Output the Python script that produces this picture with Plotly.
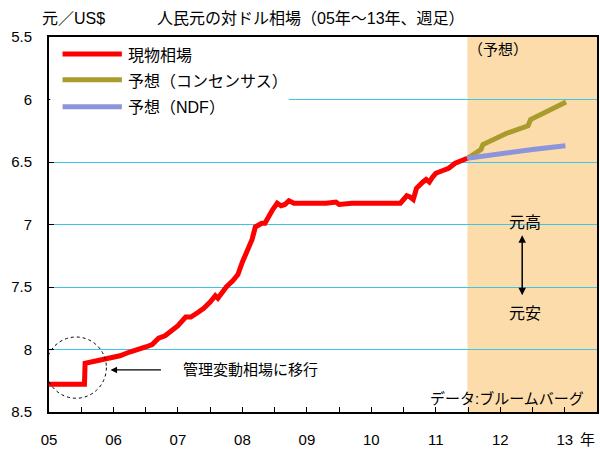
import plotly.graph_objects as go

# ---- data (decimal years, CNY per USD) ----
spot_x = [2005.0, 2005.55, 2005.56, 2005.75, 2005.95, 2006.1, 2006.25, 2006.4, 2006.5, 2006.6,
          2006.7, 2006.8, 2006.9, 2007.0, 2007.12, 2007.2, 2007.32, 2007.4, 2007.5, 2007.58,
          2007.62, 2007.68, 2007.75, 2007.85, 2007.93, 2008.0, 2008.09, 2008.15, 2008.2, 2008.3,
          2008.35, 2008.4, 2008.47, 2008.54, 2008.6, 2008.66, 2008.72, 2008.8, 2008.9, 2008.95,
          2009.1, 2009.3, 2009.45, 2009.5, 2009.7, 2009.9, 2010.1, 2010.3, 2010.45, 2010.5,
          2010.55, 2010.6, 2010.65, 2010.7, 2010.75, 2010.8, 2010.85, 2010.9, 2010.95, 2011.0,
          2011.1, 2011.2, 2011.3, 2011.42, 2011.49]
spot_y = [8.277, 8.277, 8.11, 8.09, 8.07, 8.05, 8.02, 8.00, 7.98, 7.96,
          7.91, 7.89, 7.85, 7.81, 7.74, 7.74, 7.70, 7.67, 7.62, 7.57,
          7.59, 7.54, 7.50, 7.45, 7.40, 7.30, 7.18, 7.12, 7.02, 6.99,
          6.99, 6.94, 6.88, 6.83, 6.85, 6.84, 6.81, 6.83, 6.83, 6.84,
          6.83, 6.83, 6.82, 6.84, 6.83, 6.83, 6.83, 6.83, 6.83, 6.80,
          6.77, 6.78, 6.80, 6.71, 6.68, 6.66, 6.64, 6.66, 6.62, 6.59,
          6.57, 6.55, 6.51, 6.49, 6.47]

cons_x = [2011.49, 2011.70, 2011.73, 2012.05, 2012.1, 2012.43, 2012.47, 2013.02]
cons_y = [6.47, 6.40, 6.36, 6.29, 6.27, 6.21, 6.16, 6.02]

ndf_x = [2011.49, 2012.0, 2012.5, 2013.01]
ndf_y = [6.47, 6.43, 6.40, 6.37]

series_names = ["現物相場", "予想（コンセンサス）", "予想（NDF）"]
series_colors = ["#FF0000", "#A99C2C", "#8C95DC"]

x_tickvals = [2005 + 0.5 * i for i in range(18)]
x_ticktext = ["05", "", "06", "", "07", "", "08", "", "09", "", "10", "", "11", "", "12", "", "13", ""]
y_tickvals = [5.5, 6, 6.5, 7, 7.5, 8, 8.5]
y_ticktext = ["5.5", "6", "6.5", "7", "7.5", "8", "8.5"]

forecast_start = 2011.49
x_end = 2013.5

FONT = "Liberation Sans, Arial, Noto Sans CJK JP"

fig = go.Figure()
for xs, ys, nm, col, w in [(spot_x, spot_y, series_names[0], series_colors[0], 5),
                           (cons_x, cons_y, series_names[1], series_colors[1], 5),
                           (ndf_x, ndf_y, series_names[2], series_colors[2], 5)]:
    fig.add_trace(go.Scatter(x=xs, y=ys, mode="lines", name=nm,
                             line=dict(color=col, width=w), showlegend=False))

shapes = [
    dict(type="rect", xref="x", yref="paper", x0=forecast_start, x1=x_end, y0=0, y1=1,
         fillcolor="#FDDCAC", line=dict(width=0), layer="below"),
    # legend background
    dict(type="rect", xref="x", yref="y", x0=2005.02, x1=2008.72, y0=5.52, y1=6.13,
         fillcolor="white", line=dict(width=0), layer="above"),
    dict(type="circle", xref="x", yref="y", x0=2004.95, x1=2005.89, y0=7.90, y1=8.39,
         line=dict(color="black", width=1, dash="dot")),
]
leg_y = [5.635, 5.842, 6.057]
anns = []
for nm, col, yy in zip(series_names, series_colors, leg_y):
    shapes.append(dict(type="line", xref="x", yref="y", x0=2005.21, x1=2006.13, y0=yy, y1=yy,
                       line=dict(color=col, width=5), layer="above"))
    anns.append(dict(x=2006.19, y=yy + 0.01, xref="x", yref="y", text=nm, showarrow=False,
                     xanchor="left", font=dict(size=16)))

anns += [
    dict(x=2005.955, y=8.163, ax=2006.76, ay=8.163, xref="x", yref="y", axref="x", ayref="y",
         text="", showarrow=True, arrowhead=2, arrowsize=1, arrowwidth=1.3, arrowcolor="black"),
    dict(x=2007.05, y=8.163, xref="x", yref="y", text="管理変動相場に移行", showarrow=False,
         xanchor="left", font=dict(size=15)),
    dict(x=2013.33, y=8.39, xref="x", yref="y", text="データ:ブルームバーグ", showarrow=False,
         xanchor="right", font=dict(size=15)),
    dict(x=2011.47, y=5.60, xref="x", yref="y", text="（予想）", showarrow=False,
         xanchor="left", font=dict(size=15)),
    dict(x=2012.39, y=6.98, xref="x", yref="y", text="元高", showarrow=False, font=dict(size=16)),
    dict(x=2012.39, y=7.71, xref="x", yref="y", text="元安", showarrow=False, font=dict(size=16)),
    dict(x=2012.34, y=7.566, ax=2012.34, ay=7.073, xref="x", yref="y", axref="x", ayref="y",
         text="", showarrow=True, arrowhead=2, startarrowhead=2, arrowside="end+start",
         arrowsize=1, arrowwidth=1.5, arrowcolor="black"),
    dict(x=0, y=1, xref="paper", yref="paper", text="元／US$", showarrow=False,
         xanchor="left", yanchor="middle", xshift=-9, yshift=19, font=dict(size=16)),
    dict(x=0, y=1, xref="paper", yref="paper", text="人民元の対ドル相場（05年～13年、週足）",
         showarrow=False, xanchor="left", yanchor="middle", xshift=106, yshift=19,
         font=dict(size=16)),
    dict(x=1, y=0, xref="paper", yref="paper", text="年", showarrow=False,
         xanchor="right", yanchor="middle", yshift=-27, font=dict(size=15)),
]

fig.update_layout(
    width=600, height=449,
    margin=dict(l=49, r=1, t=37, b=35),
    paper_bgcolor="white", plot_bgcolor="white",
    font=dict(family=FONT, size=15, color="black"),
    showlegend=False,
    shapes=shapes, annotations=anns,
    xaxis=dict(range=[2005, x_end], tickvals=x_tickvals, ticktext=x_ticktext,
               ticks="inside", ticklen=5, tickcolor="black", showgrid=False,
               showline=True, linecolor="black", linewidth=2, mirror=True,
               ticklabelstandoff=13, tickfont=dict(size=15), zeroline=False),
    yaxis=dict(range=[8.5, 5.5], tickvals=y_tickvals, ticktext=y_ticktext,
               ticks="inside", ticklen=5, tickcolor="black", showgrid=True,
               gridcolor="#3FC3E6", gridwidth=1,
               showline=True, linecolor="black", linewidth=2, mirror=True,
               ticklabelstandoff=12, tickfont=dict(size=15), zeroline=False),
)

fig.write_html("out.html", config={"displayModeBar": False},
               post_script="document.body.style.margin='0px';document.body.style.overflow='hidden';")
